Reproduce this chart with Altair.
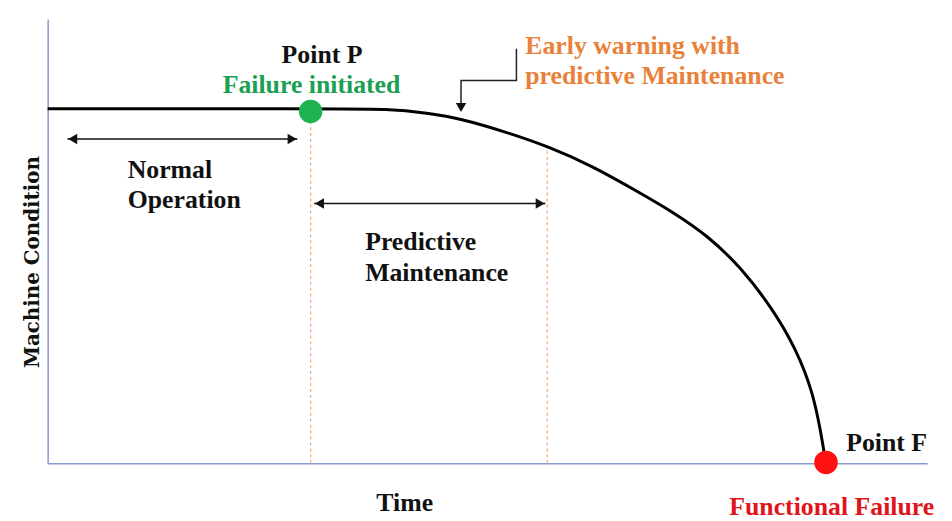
import altair as alt
import pandas as pd

# ---- data (Time 0-100, Condition 0-100) ----
curve_time = [0.0, 30.0, 39.3, 43.1, 46.8, 52.4, 56.8, 61.9, 67.5, 71.3, 75.0, 78.8, 82.5, 85.1, 87.0, 87.9, 88.4, 88.5]
curve_cond = [79.8, 79.8, 79.8, 78.8, 77.7, 74.4, 71.4, 67.0, 60.7, 56.3, 51.3, 44.2, 34.6, 25.7, 16.1, 7.1, 1.1, 0.0]

point_names = ["P", "F"]
point_time = [29.9, 88.5]
point_cond = [79.2, 0.2]
point_colors = ["#1db350", "#ff1111"]

dash_time = [29.9, 56.8]
dash_top = [77.0, 71.4]

span_start = [2.25, 30.3]
span_end = [28.4, 56.6]
span_cond = [73.0, 58.5]

elbow_time = [53.3, 53.3, 47.0, 47.0]
elbow_cond = [93.3, 86.2, 86.2, 81.0]
elbow_tip = [47.0, 79.0]

left_texts = ["Normal", "Operation", "Predictive", "Maintenance",
              "Early warning with", "predictive Maintenance", "Point F", "Functional Failure"]
left_time = [9.1, 9.1, 36.1, 36.1, 54.3, 54.3, 90.8, 77.5]
left_cond = [64.3, 57.4, 48.0, 41.1, 92.2, 85.5, 2.7, -11.6]
left_colors = ["#111111", "#111111", "#111111", "#111111",
               "#e8813a", "#e8813a", "#111111", "#e0141a"]

center_texts = ["Point P", "Failure initiated", "Time"]
center_time = [31.2, 30.0, 40.6]
center_cond = [90.2, 83.3, -10.7]
center_colors = ["#111111", "#1aa052", "#111111"]

y_title = "Machine Condition"
y_title_pos = [-1.0, 45.3]

# ---- tables ----
curve = pd.DataFrame({"t": curve_time, "c": curve_cond})
points = pd.DataFrame({"name": point_names, "t": point_time, "c": point_cond, "col": point_colors})
dashes = pd.DataFrame({"t": dash_time, "c0": [0, 0], "c1": dash_top})
spans = pd.DataFrame({"t0": span_start, "t1": span_end, "c": span_cond})
head_off = 0.6
heads = pd.DataFrame({
    "t": [s + head_off for s in span_start] + [e - head_off for e in span_end] + [elbow_tip[0]],
    "c": span_cond + span_cond + [elbow_tip[1] + 1.1],
    "shape": ["triangle-left"] * 2 + ["triangle-right"] * 2 + ["triangle-down"],
})
elbow = pd.DataFrame({"t": elbow_time, "c": elbow_cond, "o": list(range(len(elbow_time)))})
ltxt = pd.DataFrame({"text": left_texts, "t": left_time, "c": left_cond, "col": left_colors})
ctxt = pd.DataFrame({"text": center_texts, "t": center_time, "c": center_cond, "col": center_colors})
ytxt = pd.DataFrame({"text": [y_title], "t": [y_title_pos[0]], "c": [y_title_pos[1]]})

axis_color = "#8799cf"
X = alt.Scale(domain=[0, 100], nice=False, zero=False)
Y = alt.Scale(domain=[0, 100], nice=False, zero=False)
xax = alt.Axis(labels=False, ticks=False, grid=False, title=None, domainColor=axis_color, domainWidth=1.5)
yax = alt.Axis(labels=False, ticks=False, grid=False, title=None, domainColor=axis_color, domainWidth=1.5)

base_x = lambda f="t": alt.X(f"{f}:Q", scale=X, axis=xax)
base_y = lambda f="c": alt.Y(f"{f}:Q", scale=Y, axis=yax)

dash_layer = alt.Chart(dashes).mark_rule(color="#f0a77c", strokeDash=[3, 3], strokeWidth=1.2).encode(
    x=base_x(), y=base_y("c0"), y2="c1:Q")

curve_layer = alt.Chart(curve).mark_line(color="#000000", strokeWidth=3, interpolate="basis").encode(
    x=base_x(), y=base_y())

span_layer = alt.Chart(spans).mark_rule(color="#111111", strokeWidth=1.6).encode(
    x=base_x("t0"), x2="t1:Q", y=base_y())

elbow_layer = alt.Chart(elbow).mark_line(color="#222222", strokeWidth=1.5).encode(
    x=base_x(), y=base_y(), order="o:Q")

head_layer = alt.Chart(heads).mark_point(filled=True, color="#111111", opacity=1, size=110).encode(
    x=base_x(), y=base_y(), shape=alt.Shape("shape:N", scale=None))

point_layer = alt.Chart(points).mark_circle(size=560, opacity=1).encode(
    x=base_x(), y=base_y(), color=alt.Color("col:N", scale=None))

font = "Liberation Serif, 'Times New Roman', 'DejaVu Serif', serif"
ltxt_layer = alt.Chart(ltxt).mark_text(font=font, fontWeight="bold", fontSize=26, align="left",
                                       baseline="alphabetic").encode(
    x=base_x(), y=base_y(), text="text:N", color=alt.Color("col:N", scale=None))

ctxt_layer = alt.Chart(ctxt).mark_text(font=font, fontWeight="bold", fontSize=26, align="center",
                                       baseline="alphabetic").encode(
    x=base_x(), y=base_y(), text="text:N", color=alt.Color("col:N", scale=None))

ytxt_layer = alt.Chart(ytxt).mark_text(font="'DejaVu Serif', serif", fontWeight="bold", fontSize=20,
                                       align="center", baseline="alphabetic", angle=270,
                                       color="#111111").encode(
    x=base_x(), y=base_y(), text="text:N")

chart = alt.layer(
    dash_layer, curve_layer, span_layer, elbow_layer, head_layer, point_layer,
    ltxt_layer, ctxt_layer, ytxt_layer
).properties(
    width=887, height=448,
    padding={"left": 40, "top": 9, "right": 17, "bottom": 56},
    autosize=alt.AutoSizeParams(type="none"),
).configure_view(stroke=None)

chart.save("out.html", embed_options={"renderer": "svg", "actions": False})
